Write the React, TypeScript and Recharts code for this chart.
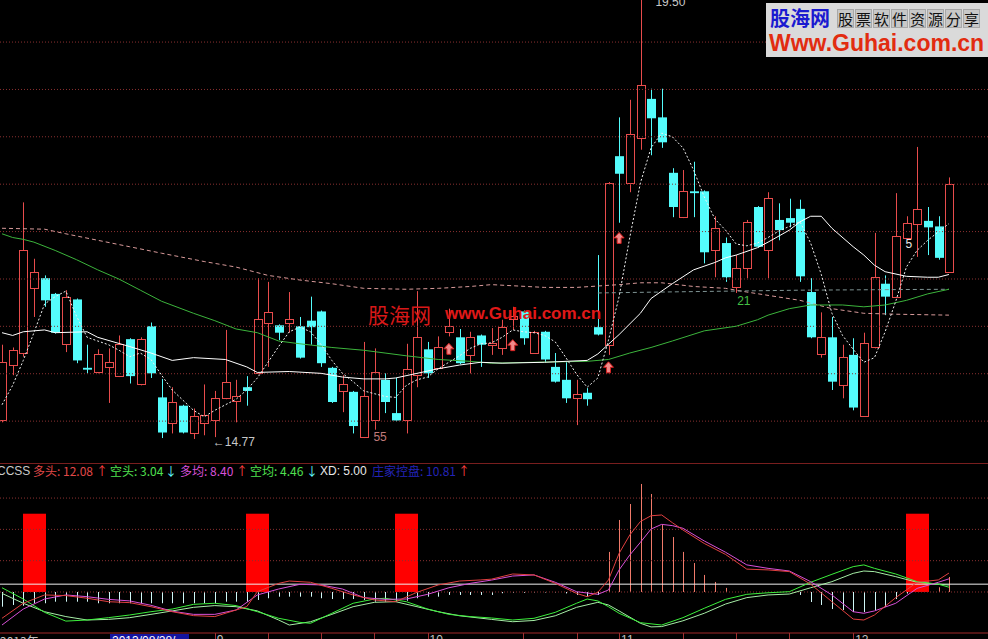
import React from "react";
import { Bar, ComposedChart, Line, ReferenceDot, ReferenceLine, Scatter, XAxis, YAxis } from "recharts";

// daily candles (price)
const opens = [14.95, 15.55, 15.68, 16.38, 16.49, 16.32, 15.78, 16.26, 15.52, 15.48,
  15.53, 15.43, 15.83, 15.34, 15.97, 15.20, 14.92, 15.11, 14.82, 14.92,
  14.95, 15.19, 15.16, 15.31, 15.46, 16.00, 15.98, 16.01, 15.97, 16.03,
  16.13, 15.52, 15.27, 15.26, 14.77, 14.96, 15.39, 15.03, 14.96, 15.44,
  15.72, 15.52, 15.91, 15.85, 15.66, 15.87, 15.77, 15.73, 16.05, 16.13,
  15.68, 15.91, 15.53, 15.39, 15.19, 15.25, 15.96, 15.77, 17.81, 17.52,
  18.01, 18.43, 18.23, 17.63, 17.15, 17.43, 17.43, 16.79, 16.87, 16.39,
  16.60, 17.26, 16.79, 17.12, 17.14, 17.24, 16.34, 15.67, 15.85, 15.33,
  15.66, 15.00, 15.74, 16.43, 16.29, 16.93, 17.08, 17.11, 17.05, 16.56];
const highs = [15.77, 15.74, 17.31, 16.70, 16.52, 16.33, 16.36, 16.27, 15.77, 15.72,
  15.73, 15.87, 15.84, 15.85, 16.01, 15.40, 15.31, 15.12, 15.08, 15.34,
  15.27, 15.93, 15.39, 15.43, 16.49, 16.45, 15.99, 16.34, 16.07, 16.29,
  16.14, 15.53, 15.44, 15.27, 15.80, 15.73, 15.46, 15.41, 15.78, 16.35,
  15.80, 15.86, 16.16, 15.94, 15.91, 15.88, 15.95, 16.04, 16.18, 16.14,
  15.92, 15.92, 15.68, 15.58, 15.39, 15.30, 16.74, 17.53, 18.23, 18.42,
  19.50, 18.54, 18.54, 17.68, 17.66, 17.75, 17.44, 17.16, 16.93, 16.74,
  17.12, 17.27, 17.42, 17.30, 17.35, 17.34, 16.49, 16.12, 16.07, 15.77,
  15.84, 15.90, 16.98, 16.52, 17.41, 17.16, 17.91, 17.26, 17.16, 17.58];
const lows = [14.93, 15.44, 15.64, 16.07, 16.18, 15.89, 15.69, 15.57, 15.46, 15.46,
  15.14, 15.42, 15.35, 15.33, 15.41, 14.76, 14.81, 14.81, 14.75, 14.79,
  14.77, 15.18, 14.93, 15.11, 15.45, 15.53, 15.82, 15.90, 15.62, 15.77,
  15.53, 15.14, 15.04, 14.81, 14.76, 14.85, 15.03, 14.94, 14.81, 15.31,
  15.41, 15.51, 15.86, 15.56, 15.46, 15.53, 15.66, 15.66, 15.93, 15.77,
  15.67, 15.58, 15.36, 15.14, 14.90, 15.11, 15.87, 15.66, 17.09, 17.42,
  17.88, 17.82, 17.90, 17.15, 17.14, 17.15, 16.65, 16.50, 16.45, 16.33,
  16.49, 16.82, 16.49, 16.90, 17.04, 16.45, 15.84, 15.63, 15.28, 15.19,
  15.06, 14.99, 15.73, 16.09, 16.28, 16.92, 16.72, 16.74, 16.69, 16.55];
const closes = [15.58, 15.71, 16.79, 16.56, 16.25, 15.90, 16.29, 15.60, 15.50, 15.67,
  15.58, 15.78, 15.43, 15.83, 15.46, 14.82, 15.15, 14.82, 15.00, 15.01,
  15.19, 15.37, 15.21, 15.27, 16.05, 16.12, 15.90, 16.05, 15.63, 15.96,
  15.57, 15.15, 15.35, 14.89, 15.22, 15.47, 15.15, 14.95, 15.51, 15.85,
  15.46, 15.74, 15.97, 15.57, 15.85, 15.77, 15.79, 15.96, 16.08, 15.84,
  15.91, 15.61, 15.37, 15.19, 15.24, 15.18, 15.88, 17.52, 17.62, 18.05,
  18.58, 18.22, 17.96, 17.26, 17.43, 17.41, 16.77, 17.03, 16.50, 16.60,
  17.10, 16.83, 17.36, 17.01, 17.09, 16.51, 15.85, 15.85, 15.37, 15.64,
  15.09, 15.79, 16.50, 16.29, 16.95, 17.09, 17.24, 17.04, 16.71, 17.51];

// white dotted short average
const ma5 = [15.12, 15.33, 15.60, 15.90, 16.21, 16.29, 16.35, 16.08, 15.85, 15.81,
  15.77, 15.71, 15.64, 15.68, 15.61, 15.44, 15.28, 15.17, 15.06, 14.99,
  15.06, 15.12, 15.18, 15.28, 15.41, 15.58, 15.75, 15.91, 15.96, 15.91,
  15.77, 15.60, 15.46, 15.37, 15.27, 15.24, 15.21, 15.20, 15.33, 15.39,
  15.42, 15.51, 15.58, 15.65, 15.73, 15.78, 15.79, 15.85, 15.93, 15.91,
  15.90, 15.87, 15.80, 15.63, 15.45, 15.31, 15.41, 15.82, 16.29, 16.93,
  17.52, 17.90, 18.06, 18.02, 17.90, 17.66, 17.37, 17.13, 17.01, 16.86,
  16.84, 16.87, 16.93, 17.00, 17.05, 17.10, 16.87, 16.53, 16.11, 15.87,
  15.72, 15.58, 15.63, 15.91, 16.24, 16.61, 16.79, 16.90, 16.99, 17.08];

// longer averages, read at [day, price]
const ma20: [number, number][] = [[0, 15.90], [1, 15.87], [2, 15.91], [4, 15.93], [5, 15.90], [8, 15.91],
  [9, 15.85], [12, 15.75], [14, 15.68], [16, 15.60], [18, 15.63], [21, 15.61], [23, 15.53], [24, 15.47],
  [27, 15.48], [30, 15.46], [32, 15.42], [34, 15.40], [36, 15.40], [37, 15.41], [39, 15.46], [41, 15.51],
  [43, 15.55], [45, 15.58], [47, 15.57], [51, 15.58], [55, 15.60], [56, 15.67], [58, 15.88], [60, 16.11],
  [61, 16.27], [63, 16.43], [65, 16.58], [67, 16.66], [68, 16.71], [69, 16.74], [71, 16.82], [72, 16.88],
  [74, 17.01], [75, 17.10], [76, 17.16], [77, 17.16], [78, 17.03], [80, 16.83], [81, 16.74], [82, 16.63],
  [83, 16.56], [85, 16.51], [87, 16.50], [88, 16.50], [89, 16.53]];
const ma60: [number, number][] = [[0, 16.97], [1, 16.93], [2, 16.91], [3, 16.88], [5, 16.79], [7, 16.69],
  [9, 16.58], [11, 16.48], [13, 16.36], [15, 16.24], [18, 16.11], [20, 16.03], [22, 15.94], [24, 15.90],
  [26, 15.81], [28, 15.78], [31, 15.74], [34, 15.71], [36, 15.68], [38, 15.65], [41, 15.61], [44, 15.59],
  [46, 15.57], [50, 15.58], [55, 15.59], [57, 15.61], [59, 15.68], [61, 15.74], [63, 15.81], [66, 15.92],
  [69, 15.97], [71, 16.04], [72, 16.09], [74, 16.16], [76, 16.20], [79, 16.20], [81, 16.18], [83, 16.20],
  [85, 16.25], [87, 16.32], [89, 16.37]];
const ma120: [number, number][] = [[0, 17.03], [4, 17.02], [6, 16.97], [9, 16.90], [12, 16.83], [15, 16.76],
  [19, 16.67], [22, 16.61], [25, 16.52], [28, 16.47], [31, 16.43], [34, 16.38], [38, 16.37], [41, 16.38],
  [44, 16.40], [46, 16.42], [51, 16.39], [54, 16.39], [58, 16.42], [60, 16.44], [62, 16.44], [65, 16.40],
  [68, 16.38], [70, 16.34], [75, 16.25], [78, 16.16], [81, 16.11], [84, 16.10], [89, 16.09]];
const ma250: [number, number][] = [[56, 16.33], [62, 16.34], [75, 16.36], [89, 16.37]];

// up-arrow signals
const signalIdx = [42, 48, 57, 58];
const signalPrice = [15.72, 15.76, 15.52, 16.92];

// notes written on the price panel
const noteText = ["19.50", "\u219014.77", "55", "21", "5"];
const noteIdx = [60, 20, 35, 69, 85];
const notePrice = [19.5, 14.77, 14.85, 16.33, 16.92];

const priceGrid = [19.045, 18.532, 18.02, 17.507, 16.994, 16.481, 15.969, 15.456, 14.943];

// CCSS indicator
const hist = [-9.4, -8.3, -8.8, -7.2, -7.2, -6.2, -6.2, -6.2, -6.2, -7.2,
  -7.2, -7.2, -7.2, -7.2, -7.2, -7.2, -7.2, -7.2, -7.2, -7.2,
  -7.2, -6.2, -6.2, -6.2, -5.1, -4.0, -3.0, -3.0, -3.0, -3.0,
  -4.0, -4.5, -4.5, -4.5, -5.1, -6.2, -6.2, -6.2, -5.6, -4.0,
  -3.0, -3.0, -1.9, -1.9, -1.9, -1.9, -1.9, -0.8, -0.5, -0.5,
  -0.3, -0.3, -0.3, -0.9, -1.9, -3.0, -1.9, 25.6, 46.0, 56.2,
  69.0, 62.6, 42.8, 35.1, 25.6, 18.5, 10.9, 6.4, 2.6, null,
  null, null, null, null, null, -1.9, -6.4, -8.3, -10.9, -11.5,
  -12.8, -12.8, -11.5, -9.6, -4.5, -1.0, 1.0, 2.0, 3.0, 9.6];
const stickIdx = [3, 24, 38, 86];
const stickValue = [50, 50, 50, 50];
const bull: [number, number][] = [[0, -16.8], [2, -7.2], [4, -1.9], [6, -2.3], [8, -4.0], [10, -6.2], [12, -6.8],
  [14, -9.4], [16, -12.6], [18, -15.1], [20, -15.7], [22, -11.5], [23, -9.4], [24, 0.2], [26, 5.5], [27, 7.0],
  [29, 6.2], [31, 2.3], [33, -1.9], [35, -5.1], [37, -6.2], [39, -0.2], [41, 4.5], [43, 7.0], [45, 7.7],
  [46, 8.2], [48, 11.5], [50, 10.9], [52, 5.5], [54, -0.9], [55, -3.0], [56, -0.2], [57, 7.7], [58, 24.7],
  [59, 36.4], [60, 45.0], [61, 48.7], [62, 49.2], [63, 44.3], [64, 39.6], [66, 31.0], [68, 24.0], [70, 14.6],
  [72, 14.1], [74, 13.0], [76, 5.0], [78, -6.2], [80, -17.3], [81, -17.9], [82, -14.7], [84, -3.6], [86, 6.2],
  [88, 7.7], [89, 12.08]];
const bullAvg: [number, number][] = [[0, -21.1], [2, -10.9], [4, -4.5], [6, -1.9], [8, -3.0], [10, -4.7], [12, -5.7],
  [14, -8.5], [16, -12.3], [18, -14.3], [20, -14.3], [22, -11.5], [24, -1.9], [26, 1.9], [28, 4.9], [30, 4.5],
  [32, 1.9], [34, -3.6], [36, -4.7], [38, -4.5], [40, -1.5], [42, 2.7], [44, 5.5], [46, 7.6], [48, 10.2],
  [50, 10.9], [52, 6.2], [54, 0.2], [56, -1.5], [57, 1.3], [58, 14.1], [59, 23.6], [60, 31.7], [61, 40.2],
  [62, 43.2], [63, 42.4], [64, 40.7], [66, 32.6], [68, 25.4], [70, 17.3], [72, 15.1], [74, 13.4], [76, 6.6],
  [78, -1.9], [80, -12.6], [81, -13.6], [82, -12.1], [84, -7.2], [86, 2.3], [88, 6.2], [89, 8.4]];
const bear: [number, number][] = [[0, 2.7], [2, -4.5], [4, -13.0], [6, -18.6], [8, -17.9], [10, -16.4], [12, -14.7],
  [14, -12.6], [16, -10.9], [18, -7.9], [20, -7.2], [22, -8.7], [24, -12.6], [26, -16.8], [28, -19.4], [29, -20.0],
  [31, -13.6], [33, -7.2], [35, -4.5], [36, -4.0], [38, -6.2], [40, -10.9], [42, -14.3], [44, -15.7], [46, -16.6],
  [48, -17.9], [50, -16.8], [52, -13.0], [54, -7.2], [55, -4.5], [56, -5.7], [57, -9.4], [58, -13.6], [60, -19.6],
  [62, -21.1], [64, -16.4], [66, -10.4], [68, -4.7], [70, -1.5], [72, -0.5], [74, 0.2], [76, 6.2], [78, 11.3],
  [80, 16.2], [81, 17.3], [82, 15.1], [84, 11.5], [86, 6.6], [88, 5.0], [89, 3.04]];
const bearAvg: [number, number][] = [[0, -0.9], [2, -7.2], [4, -12.6], [6, -15.7], [8, -17.9], [10, -17.5], [12, -16.4],
  [14, -14.3], [16, -12.1], [18, -9.8], [20, -8.7], [22, -9.4], [24, -12.1], [26, -17.9], [27, -21.1], [29, -19.0],
  [31, -14.3], [33, -9.4], [35, -6.6], [37, -6.2], [39, -9.4], [41, -12.6], [43, -15.2], [46, -17.5], [48, -19.0],
  [50, -18.2], [52, -15.2], [54, -9.8], [56, -6.6], [57, -8.3], [58, -12.1], [60, -20.0], [61, -22.3], [62, -22.1],
  [64, -18.4], [66, -13.6], [68, -7.7], [70, -3.6], [72, -1.9], [74, -1.3], [76, 2.7], [78, 6.6], [80, 11.9],
  [81, 13.4], [82, 13.0], [84, 9.8], [86, 6.2], [88, 5.0], [89, 4.46]];
const xdLevel = 5;
const indicatorGrid = [0, 20, 40, 60];

// bottom date axis
const dateTickIdx = [20, 25, 30, 35, 40, 49, 54, 58, 64, 69, 74, 80];
const dateTickText = ["9", "", "", "", "10", "", "", "11", "", "", "", "12"];

const RED = "#e84c4c";
const CYAN = "#54fcfc";
const GRID = "#8a3030";
const X_DOMAIN: [number, number] = [-0.188, 92.669];
const FONT = '"Liberation Sans", Arial, "Noto Sans CJK SC", sans-serif';
const CJK = '"Noto Sans CJK SC", "Liberation Sans", sans-serif';

const at = (pts: [number, number][], i: number) => {
  const p = pts.find((q) => q[0] === i);
  return p ? p[1] : null;
};

const priceRows = opens.map((o, i) => ({
  i, o, h: highs[i], l: lows[i], c: closes[i],
  ma5: ma5[i], ma20: at(ma20, i), ma60: at(ma60, i), ma120: at(ma120, i), ma250: at(ma250, i),
}));

const indRows = opens.map((_, i) => {
  const s = stickIdx.indexOf(i);
  return {
    i, hist: hist[i], stick: s >= 0 ? stickValue[s] : null,
    bull: at(bull, i), bullAvg: at(bullAvg, i), bear: at(bear, i), bearAvg: at(bearAvg, i),
  };
});

const signals = signalIdx.map((i, k) => ({ i, v: signalPrice[k] }));

function Candle(props: any) {
  const { x, y, width, height, payload } = props;
  if (!payload || x == null || y == null) return null;
  const { o, h, l, c } = payload;
  const top = Math.min(y, y + height);
  const span = Math.abs(height);
  const k = span / (h - l || 1);
  const py = (v: number) => top + (h - v) * k;
  const cx = Math.round(x + width / 2) + 0.5;
  const bt = py(Math.max(o, c));
  const bb = py(Math.min(o, c));
  if (c >= o) {
    const t = Math.round(bt) + 0.5;
    const b = Math.max(Math.round(bb) + 0.5, t + 1);
    return (
      <g>
        <line x1={cx} x2={cx} y1={top} y2={t} stroke={RED} />
        <line x1={cx} x2={cx} y1={b} y2={top + span} stroke={RED} />
        <rect x={cx - 4} y={t} width={8} height={b - t} fill="#000" stroke={RED} />
      </g>
    );
  }
  return (
    <g>
      <line x1={cx} x2={cx} y1={top} y2={top + span} stroke={CYAN} />
      <rect x={cx - 4.5} y={bt} width={9} height={Math.max(bb - bt, 1.5)} fill={CYAN} />
    </g>
  );
}

function UpArrow(props: any) {
  const { cx, cy } = props;
  if (cx == null) return null;
  const d = `M${cx},${cy - 6} L${cx + 5},${cy - 0.5} L${cx + 2},${cy - 0.5} L${cx + 2},${cy + 5} L${cx - 2},${cy + 5} L${cx - 2},${cy - 0.5} L${cx - 5},${cy - 0.5} Z`;
  return <path d={d} fill="#f08a8a" stroke="#d82020" strokeWidth={1} />;
}

function HistLine(props: any) {
  const { x, y, width, height, payload } = props;
  if (!payload || payload.hist == null || x == null) return null;
  const cx = Math.round(x + width / 2) + 0.5;
  return <line x1={cx} x2={cx} y1={y} y2={y + height} stroke={payload.hist > 0 ? "#f07a6a" : "#d0f6f6"} strokeWidth={1} />;
}

// wide red stick, centred on its day
function Stick(props: any) {
  const { x, y, width, height, payload } = props;
  if (!payload || payload.stick == null || x == null) return null;
  const cx = x + width / 2;
  return <rect x={Math.round(cx - 11.5)} y={Math.min(y, y + height)} width={23} height={Math.abs(height)} fill="#ff0000" />;
}

function DateTick(props: any) {
  const { x, payload } = props;
  const k = dateTickIdx.indexOf(payload.value);
  const label = k >= 0 ? dateTickText[k] : "";
  const lx = Math.round(x) + 0.5;
  return (
    <g>
      <line x1={lx} x2={lx} y1={170} y2={176} stroke="#a03030" />
      {label ? (
        <text x={x + 2} y={181} fill="#c0c0c0" fontSize={12} fontFamily={FONT}>{label}</text>
      ) : null}
    </g>
  );
}

const noteStyle = [
  { dx: 15, dy: 6, fill: "#c8c8c8" },
  { dx: -2, dy: 9, fill: "#c8c8c8" },
  { dx: -1, dy: 11, fill: "#c07a7a" },
  { dx: 1, dy: 12, fill: "#44c044" },
  { dx: -1, dy: 10, fill: "#e8e8e8" },
];

const header = [
  { left: -3, text: "CCSS", color: "#c8c8c8" },
  { left: 33, text: "多头: 12.08", color: "#e04848" },
  { left: 96, text: "↑", color: "#ff4040" },
  { left: 110, text: "空头: 3.04", color: "#50e050" },
  { left: 165, text: "↓", color: "#60ffff" },
  { left: 180, text: "多均: 8.40", color: "#d850d8" },
  { left: 236, text: "↑", color: "#ff4040" },
  { left: 250, text: "空均: 4.46", color: "#50e050" },
  { left: 306, text: "↓", color: "#60ffff" },
  { left: 320, text: "XD: 5.00", color: "#e8e8e8" },
  { left: 372, text: "庄家控盘: 10.81", color: "#2424b8" },
  { left: 458, text: "↑", color: "#ff4040" },
];

export default function App() {
  return (
    <div style={{ position: "absolute", left: 0, top: 0, width: 988, height: 639, background: "#000", overflow: "hidden", fontFamily: FONT }}>
      <div style={{ position: "absolute", left: 0, top: 0 }}>
        <ComposedChart width={988} height={463} data={priceRows} margin={{ top: 0, right: 0, bottom: 0, left: 0 }}>
          <XAxis type="number" dataKey="i" domain={X_DOMAIN} hide allowDataOverflow />
          <YAxis type="number" domain={[14.49, 19.5]} hide allowDataOverflow />
          {priceGrid.map((v) => (
            <ReferenceLine key={v} y={v} stroke={GRID} strokeDasharray="1 2" />
          ))}
          <Bar dataKey={(d: any) => [d.l, d.h]} barSize={9} shape={(p: any) => <Candle {...p} />} isAnimationActive={false} />
          <Line dataKey="ma120" stroke="#d89a9a" strokeDasharray="4 3" dot={false} activeDot={false} connectNulls isAnimationActive={false} />
          <Line dataKey="ma250" stroke="#7f9494" strokeDasharray="4 3" dot={false} activeDot={false} connectNulls isAnimationActive={false} />
          <Line dataKey="ma60" stroke="#3cb43c" dot={false} activeDot={false} connectNulls isAnimationActive={false} />
          <Line dataKey="ma20" stroke="#ffffff" dot={false} activeDot={false} connectNulls isAnimationActive={false} />
          <Line dataKey="ma5" stroke="#f0f0f0" strokeDasharray="2 2" dot={false} activeDot={false} isAnimationActive={false} />
          <Scatter data={signals} dataKey="v" shape={(p: any) => <UpArrow {...p} />} isAnimationActive={false} />
          {noteText.map((t, k) => (
            <ReferenceDot
              key={t}
              x={noteIdx[k]}
              y={notePrice[k]}
              r={0}
              shape={(p: any) => (
                <text x={p.cx + noteStyle[k].dx} y={p.cy + noteStyle[k].dy} fill={noteStyle[k].fill} fontSize={12} fontFamily={FONT}>
                  {t}
                </text>
              )}
            />
          ))}
        </ComposedChart>
      </div>

      <div style={{ position: "absolute", left: 0, top: 463 }}>
        <ComposedChart width={988} height={176} data={indRows} margin={{ top: 0, right: 0, bottom: 0, left: 0 }}>
          <XAxis type="number" dataKey="i" domain={X_DOMAIN} allowDataOverflow ticks={dateTickIdx} interval={0}
            height={6} tickSize={0} tickMargin={0} axisLine={{ stroke: "#a02828" }} tickLine={false} tick={(p: any) => <DateTick {...p} />} />
          <XAxis xAxisId="h" type="number" dataKey="i" domain={X_DOMAIN} hide allowDataOverflow />
          <XAxis xAxisId="s" type="number" dataKey="i" domain={X_DOMAIN} hide allowDataOverflow />
          <YAxis type="number" domain={[-26.2, 82.4]} hide allowDataOverflow />
          {indicatorGrid.map((v) => (
            <ReferenceLine key={v} y={v} stroke={GRID} strokeDasharray="1 2" />
          ))}
          <ReferenceLine y={82.4} stroke="#a02828" strokeWidth={1.5} />
          <Bar xAxisId="h" dataKey="hist" barSize={1} shape={(p: any) => <HistLine {...p} />} isAnimationActive={false} />
          <ReferenceLine y={xdLevel} stroke="#f0f0f0" />
          <Line dataKey="bearAvg" stroke="#a6eea6" dot={false} activeDot={false} connectNulls isAnimationActive={false} />
          <Line dataKey="bear" stroke="#3cf03c" dot={false} activeDot={false} connectNulls isAnimationActive={false} />
          <Line dataKey="bullAvg" stroke="#d850d8" dot={false} activeDot={false} connectNulls isAnimationActive={false} />
          <Line dataKey="bull" stroke="#e04040" dot={false} activeDot={false} connectNulls isAnimationActive={false} />
          <Bar xAxisId="s" dataKey="stick" barSize={9} shape={(p: any) => <Stick {...p} />} isAnimationActive={false} />
        </ComposedChart>
      </div>

      {header.map((h) => (
        <span key={h.left} style={{ position: "absolute", left: h.left, top: 464, fontSize: 12, lineHeight: "14px", color: h.color, whiteSpace: "nowrap", fontFamily: h.text.match(/[^\x00-\x7f]/) ? CJK : FONT }}>
          {h.text}
        </span>
      ))}

      <span style={{ position: "absolute", left: 0, top: 634, fontSize: 12, lineHeight: "14px", color: "#c0c0c0", fontFamily: CJK }}>2013年</span>
      <div style={{ position: "absolute", left: 110, top: 634, width: 77, height: 10, background: "#1414a0", color: "#fff", fontSize: 12, lineHeight: "14px", paddingLeft: 2 }}>2013/08/28/</div>

      <div style={{ position: "absolute", left: 368, top: 299, fontSize: 21, color: "#d81818", fontFamily: CJK, whiteSpace: "nowrap" }}>股海网</div>
      <div style={{ position: "absolute", left: 445, top: 304, fontSize: 17, fontWeight: 700, color: "#e01818", whiteSpace: "nowrap" }}>www.Guhai.com.cn</div>

      <div style={{ position: "absolute", left: 766, top: 3, width: 222, height: 54, background: "#dadada" }}>
        <div style={{ position: "absolute", left: 4, top: 2, fontSize: 20, fontWeight: 700, color: "#1a1ad0", fontFamily: CJK, lineHeight: "26px" }}>股海网</div>
        <div style={{ position: "absolute", left: 71, top: 6, display: "flex" }}>
          {"股票软件资源分享".split("").map((ch, k) => (
            <span key={k} style={{ width: 17, height: 19, marginRight: 1, background: "#c8c8c8", border: "1px solid #a8a8a8", boxSizing: "border-box", fontSize: 15, lineHeight: "17px", textAlign: "center", color: "#111", fontFamily: CJK }}>{ch}</span>
          ))}
        </div>
        <div style={{ position: "absolute", left: 3, top: 27, fontSize: 23, fontWeight: 700, color: "#e22c10", lineHeight: "26px", whiteSpace: "nowrap" }}>Www.Guhai.com.cn</div>
      </div>
    </div>
  );
}
